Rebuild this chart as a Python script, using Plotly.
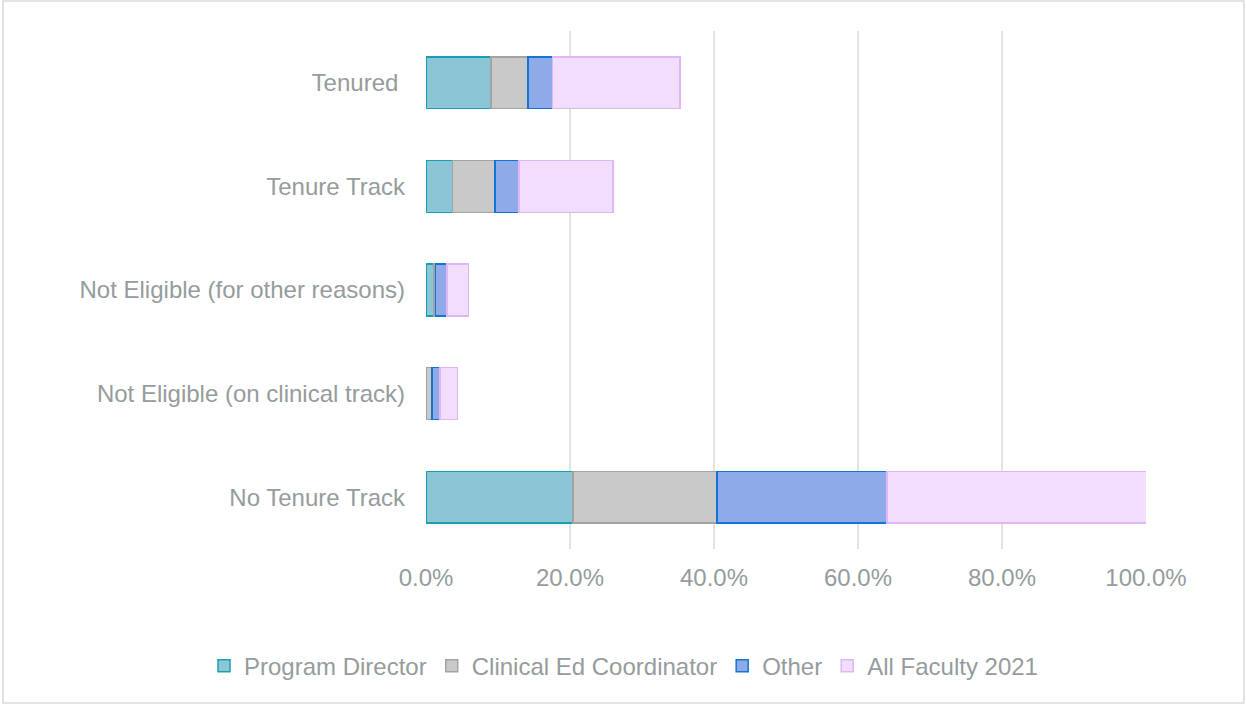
import plotly.graph_objects as go

categories = ["No Tenure Track", "Not Eligible (on clinical track)",
              "Not Eligible (for other reasons)", "Tenure Track", "Tenured "]
program_director = [20.4, 0.1, 1.1, 3.7, 9.0]
clinical_ed_coord = [20.0, 0.75, 0.2, 5.9, 5.2]
other = [23.6, 1.1, 1.6, 3.3, 3.35]
all_faculty_2021 = [36.1, 2.4, 3.0, 13.1, 17.7]
x_ticks = [0, 20, 40, 60, 80, 100]
x_tick_labels = ["0.0%", "20.0%", "40.0%", "60.0%", "80.0%", "100.0%"]

series = [
    ("Program Director", program_director, "#8cc6d6", "#17a0b4"),
    ("Clinical Ed Coordinator", clinical_ed_coord, "#c9c9c9", "#a3a3a3"),
    ("Other", other, "#8eaae8", "#1474d2"),
    ("All Faculty 2021", all_faculty_2021, "#f1defc", "#e1b6f4"),
]

text_color = "#959c9c"
fig = go.Figure()
for name, vals, fill, line in series:
    fig.add_trace(go.Bar(
        y=categories, x=vals, name=name, orientation="h",
        marker=dict(color=fill, line=dict(color=line, width=1.5)),
        width=0.5,
    ))

fig.update_layout(
    width=1246, height=704,
    barmode="stack",
    paper_bgcolor="white", plot_bgcolor="white",
    margin=dict(l=426, r=100, t=31, b=155, autoexpand=False),
    font=dict(family="Liberation Sans, Arial, sans-serif", size=24, color=text_color),
    xaxis=dict(range=[0, 100], tickvals=x_ticks, ticktext=x_tick_labels,
               showgrid=True, gridcolor="#e3e3e3", gridwidth=1.5,
               zeroline=False, showline=False, ticks="",
               tickfont=dict(size=24, color=text_color), ticklabelstandoff=12),
    yaxis=dict(showgrid=False, showline=False, ticks="", zeroline=False,
               tickfont=dict(size=24, color=text_color), ticklabelstandoff=20),
    legend=dict(orientation="h", x=(204 - 426) / 720, xanchor="left",
                y=-0.226, yanchor="middle",
                font=dict(size=24, color=text_color),
                itemwidth=30, tracegroupgap=0, traceorder="normal"),
    shapes=[dict(type="rect", xref="paper", yref="paper",
                 x0=-423 / 720, x1=1 + 98 / 720, y0=-154 / 518, y1=1 + 30 / 518,
                 line=dict(color="#d9dcdc", width=1.5), fillcolor="rgba(0,0,0,0)",
                 layer="below")],
)

fig.write_html("out.html", config={"displayModeBar": False},
               post_script="document.body.style.margin='0';document.body.style.overflow='hidden';")
